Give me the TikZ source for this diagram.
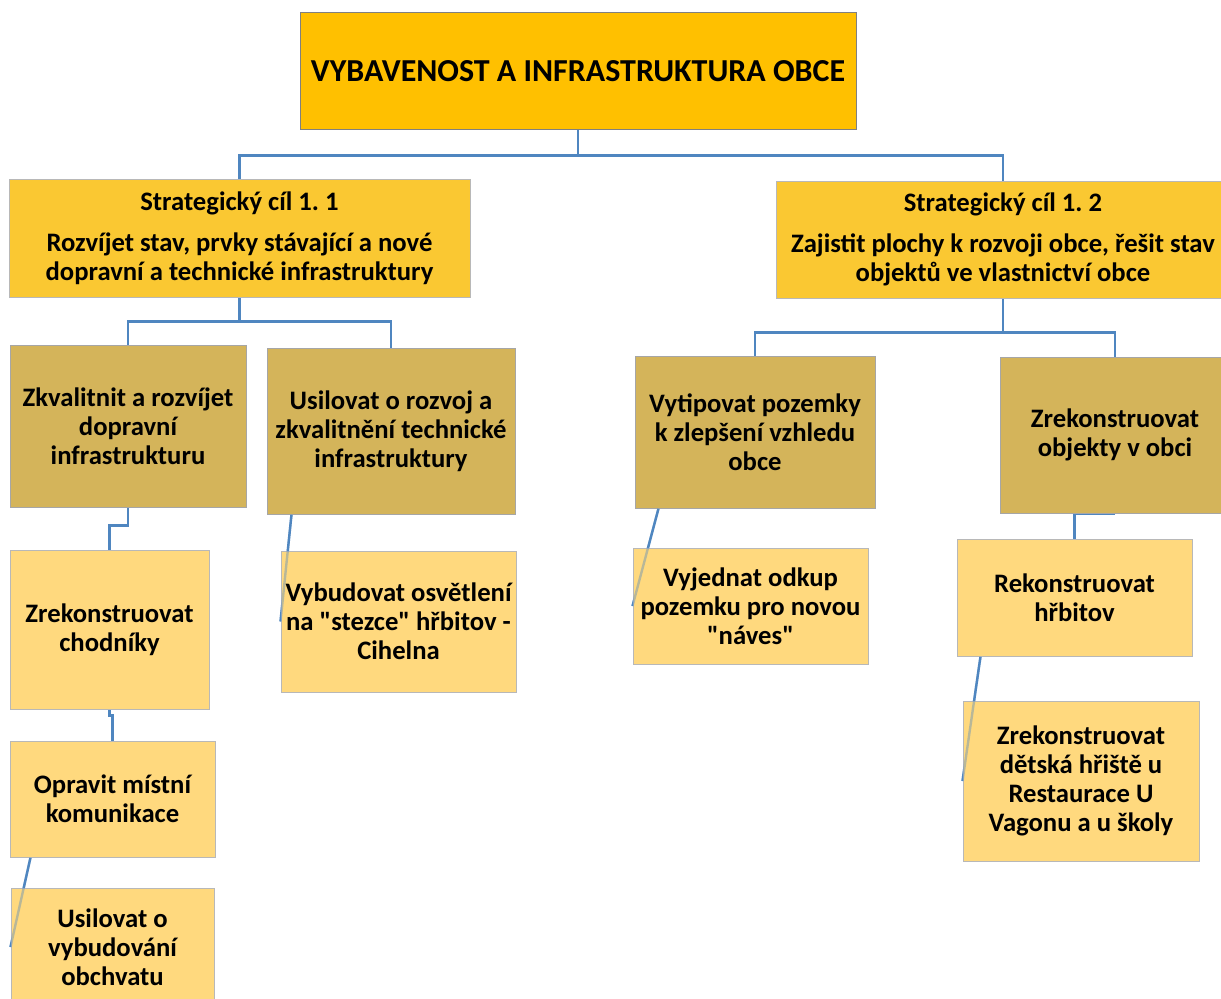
\documentclass[tikz,border=0pt]{standalone}
\usepackage{fontspec}
\setmainfont{Carlito}[Ligatures=TeXOff]
\frenchspacing
\usetikzlibrary{backgrounds}
\definecolor{topc}{HTML}{FFC000}
\definecolor{sc}{HTML}{FAC832}
\definecolor{lvtwo}{HTML}{D4B45A}
\definecolor{lvthree}{HTML}{FFD97E}
\definecolor{conc}{HTML}{4F86C0}
\tikzset{
  box/.style={draw=black!28, line width=0.75pt, inner sep=0pt, align=center, font=\bfseries\fontsize{20}{21.75}\selectfont, text=black},
  topbox/.style={box, fill=topc, draw=black!50, font=\bfseries\fontsize{24}{28}\selectfont},
  scbox/.style={box, fill=sc},
  twobox/.style={box, fill=lvtwo, draw=black!35},
  threebox/.style={box, fill=lvthree},
  conn/.style={draw=conc, line width=1.8pt},
  connfade/.style={draw=conc, line width=1.8pt, draw opacity=0.4}
}
\begin{document}
\begin{tikzpicture}[x=0.75pt,y=-0.75pt]
\useasboundingbox (0,0) rectangle (1221,999);
\clip (0,0) rectangle (1221,999);
\node[topbox, minimum width=417pt, minimum height=87pt] (top) at (578,71) {VYBAVENOST A INFRASTRUKTURA OBCE};
\node[scbox, minimum width=345.75pt, minimum height=88.5pt] (s11) at (239.5,238) {Strategický cíl 1. 1\\[9pt]Rozvíjet stav, prvky stávající a nové\\dopravní a technické infrastruktury};
\node[scbox, minimum width=340.5pt, minimum height=87.75pt] (s12) at (1003,239.5) {Strategický cíl 1. 2\\[9pt]Zajistit plochy k rozvoji obce, řešit stav\\objektů ve vlastnictví obce};
\node[twobox, minimum width=177pt, minimum height=121.5pt] (A) at (128,426) {Zkvalitnit a rozvíjet\\dopravní\\infrastrukturu};
\node[twobox, minimum width=186pt, minimum height=124.5pt] (B) at (391,431) {Usilovat o rozvoj a\\zkvalitnění technické\\infrastruktury};
\node[twobox, minimum width=180pt, minimum height=114pt] (C) at (755,432) {Vytipovat pozemky\\k zlepšení vzhledu\\obce};
\node[twobox, minimum width=172.5pt, minimum height=117pt] (D) at (1115,435) {Zrekonstruovat\\objekty v obci};
\node[threebox, minimum width=149.25pt, minimum height=119.25pt] (E) at (109.5,629.5) {Zrekonstruovat\\chodníky};
\node[threebox, minimum width=153.75pt, minimum height=87pt] (F) at (112.5,799) {Opravit místní\\komunikace};
\node[threebox, minimum width=152.25pt, minimum height=88.5pt] (G) at (112.5,947) {Usilovat o\\vybudování\\obchvatu};
\node[threebox, minimum width=176.25pt, minimum height=105.75pt] (H) at (398.5,621.5) {Vybudovat osvětlení\\na "stezce" hřbitov -\\Cihelna};
\node[threebox, minimum width=176.25pt, minimum height=87pt] (I) at (750.5,606) {Vyjednat odkup\\pozemku pro novou\\"náves"};
\node[threebox, minimum width=176.25pt, minimum height=87.75pt] (J) at (1074.5,597.5) {Rekonstruovat\\hřbitov};
\node[threebox, minimum width=177pt, minimum height=120pt] (K) at (1081,781) {Zrekonstruovat\\dětská hřiště u\\Restaurace U\\Vagonu a u školy};
\begin{scope}[on background layer]
\fill[white] (0,0) rectangle (1221,999);
\draw[conn] (top.south) -- ++(0,26) -| (s11.north);
\draw[conn] (top.south) -- ++(0,26) -| (s12.north);
\draw[conn] (s11.south) -- ++(0,24) -| (A.north);
\draw[conn] (s11.south) -- ++(0,24) -| (B.north);
\draw[conn] (s12.south) -- ++(0,34) -| (C.north);
\draw[conn] (s12.south) -- ++(0,34) -| (D.north);
\draw[conn] (A.south) -- ++(0,18) -| (E.north);
\draw[conn] (E.south) -- ++(0,6) -| (F.north);
\draw[conn] (D.south) -| (J.north);
\draw[conn] ([xshift=15.75pt]F.south west) -- (G.west);
\draw[conn] ([xshift=18.75pt]B.south west) -- (H.west);
\draw[conn] ([xshift=18pt]C.south west) -- (I.west);
\draw[conn] ([xshift=18pt]J.south west) -- (K.west);
\end{scope}
\draw[connfade] ([xshift=15.75pt]F.south west) -- (G.west);
\draw[connfade] ([xshift=18.75pt]B.south west) -- (H.west);
\draw[connfade] ([xshift=18pt]C.south west) -- (I.west);
\draw[connfade] ([xshift=18pt]J.south west) -- (K.west);
\end{tikzpicture}
\end{document}
